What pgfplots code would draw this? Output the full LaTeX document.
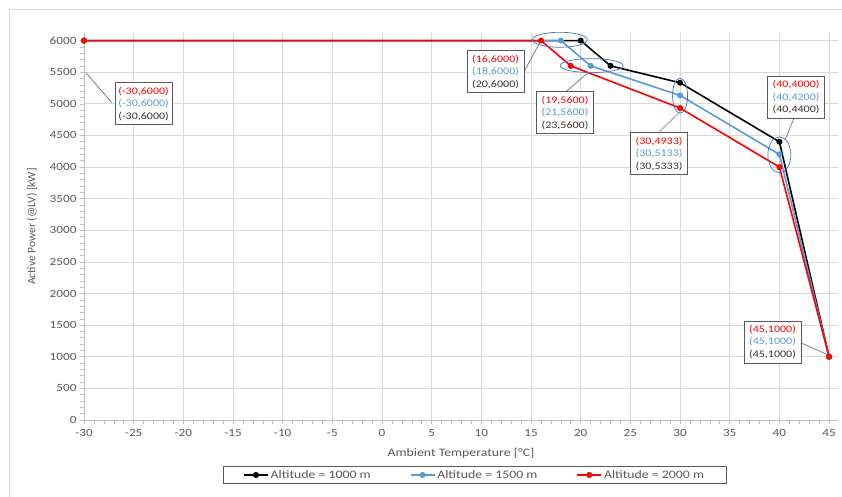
\documentclass[border=0pt]{standalone}
\usepackage{pgfplots}
\pgfplotsset{compat=1.18}
\usepackage{fontspec}
\setmainfont{Carlito}[FakeStretch=1.2]
\newfontfamily\plainfont{Carlito}

\definecolor{txt}{HTML}{595959}
\definecolor{gridc}{HTML}{D9D9D9}
\definecolor{axc}{HTML}{BFBFBF}
\definecolor{s1}{HTML}{000000}
\definecolor{s2}{HTML}{5B9BD5}
\definecolor{s3}{HTML}{FF0000}
\definecolor{s3fill}{HTML}{C83200}
\definecolor{ell}{HTML}{4A72B8}
\definecolor{boxc}{HTML}{595959}

\tikzset{callout/.style={draw=boxc, line width=0.8pt, fill=white, align=center,
  font=\fontsize{10}{12.5}\selectfont, inner xsep=3pt, inner ysep=2pt,
  minimum width=57pt, minimum height=42pt}}

% one callout box: x, y, then the three labels (2000 m, 1500 m, 1000 m)
\newcommand{\callout}[5]{%
  \node[callout] at (axis cs:#1,#2)
    {\textcolor{s3}{#3}\\\textcolor{s2}{#4}\\\textcolor{black!80}{#5}};}

\begin{document}
\begin{tikzpicture}
\useasboundingbox (0,0) rectangle (842pt,-497pt);
\draw[gridc, line width=0.8pt] (9pt,-9pt) rectangle (900pt,-600pt);
\begin{axis}[
    at={(84pt,-420pt)}, anchor=south west,
    scale only axis, width=754pt, height=387pt,
    xmin=-30, xmax=45.9, ymin=0, ymax=6120,
    xtick={-30,-25,...,45}, ytick={0,500,...,6000},
    minor x tick num=4, minor y tick num=4,
    grid=major, major grid style={gridc, line width=0.8pt},
    axis x line*=bottom, axis y line*=left,
    axis line style={-, axc, line width=0.8pt},
    tick align=outside, tick style={axc, line width=0.6pt},
    major tick length=4pt, minor tick length=4pt,
    /pgf/number format/assume math mode=true,
    /pgf/number format/1000 sep={},
    tick label style={font=\fontsize{11}{13}\selectfont, text=txt},
    xticklabel style={yshift=-2pt},
    xlabel={Ambient Temperature [°C]},
    xlabel style={at={(axis description cs:0.5,-0.0853)}, anchor=center,
      font=\fontsize{11.5}{13}\selectfont, text=txt},
    ylabel={\plainfont Active Power (@LV) [kW]},
    ylabel style={at={(axis description cs:-0.069,0.5)}, anchor=center,
      font=\fontsize{11.5}{13}\selectfont, text=txt},
    legend columns=3,
    legend style={at={(axis description cs:0.518,-0.142)}, anchor=center,
      draw=boxc, line width=0.8pt, font=\fontsize{11.5}{13}\selectfont,
      text=txt, inner xsep=20pt, inner ysep=1.5pt,
      /tikz/every even column/.append style={column sep=37pt}},
    legend image code/.code={%
      \draw[mark repeat=2, mark phase=2, #1]
        plot coordinates {(0pt,0pt) (12pt,0pt) (24pt,0pt)};},
  ]
  \addplot[s1, line width=1.6pt, line join=round, mark=*, mark size=2.2pt,
    mark options={fill=s1}]
    coordinates {(-30,6000) (20,6000) (23,5600) (30,5333) (40,4400) (45,1000)};
  \addlegendentry{Altitude = 1000 m}
  \addplot[s2, line width=1.6pt, line join=round, mark=*, mark size=2.2pt,
    mark options={fill=s2}]
    coordinates {(-30,6000) (18,6000) (21,5600) (30,5133) (40,4200) (45,1000)};
  \addlegendentry{Altitude = 1500 m}
  \addplot[s3, line width=1.6pt, line join=round, mark=*, mark size=2.2pt,
    mark options={fill=s3fill, draw=s3}]
    coordinates {(-30,6000) (16,6000) (19,5600) (30,4933) (40,4000) (45,1000)};
  \addlegendentry{Altitude = 2000 m}

  % rings round the grouped points
  \draw[ell, line width=0.7pt] (axis cs:17.9,6013) ellipse [x radius=27.5pt, y radius=7.5pt];
  \draw[ell, line width=0.7pt] (axis cs:21.1,5604) ellipse [x radius=31.5pt, y radius=7pt];
  \draw[ell, line width=0.7pt] (axis cs:30,5127) ellipse [x radius=7.5pt, y radius=17.5pt];
  \draw[ell, line width=0.7pt] (axis cs:40,4193) ellipse [x radius=11.5pt, y radius=18pt];

  % leader lines
  \draw[gray, line width=0.8pt] (axis cs:-29.8,5493) -- (axis cs:-27.2,5018);
  \draw[gray, line width=0.8pt] (axis cs:14.3,5509) -- (axis cs:16,6000);
  \draw[gray, line width=0.8pt] (axis cs:18.5,5190) -- (axis cs:20.74,5493);
  \draw[ell!70, line width=0.8pt] (axis cs:27.8,4540) -- (axis cs:30,4876);
  \draw[gray, line width=0.8pt] (axis cs:41.5,4780) -- (axis cs:40.57,4432);
  \draw[gray, line width=0.8pt] (axis cs:42.18,1219) -- (axis cs:44.9,1029);

  \callout{-24.0}{5002}{(-30,6000)}{(-30,6000)}{(-30,6000)}
  \callout{11.43}{5509}{(16,6000)}{(18,6000)}{(20,6000)}
  \callout{18.42}{4860}{(19,5600)}{(21,5600)}{(23,5600)}
  \callout{27.89}{4211}{(30,4933)}{(30,5133)}{(30,5333)}
  \callout{41.68}{5105}{(40,4000)}{(40,4200)}{(40,4400)}
  \callout{39.31}{1235}{(45,1000)}{(45,1000)}{(45,1000)}
\end{axis}
\end{tikzpicture}
\end{document}
